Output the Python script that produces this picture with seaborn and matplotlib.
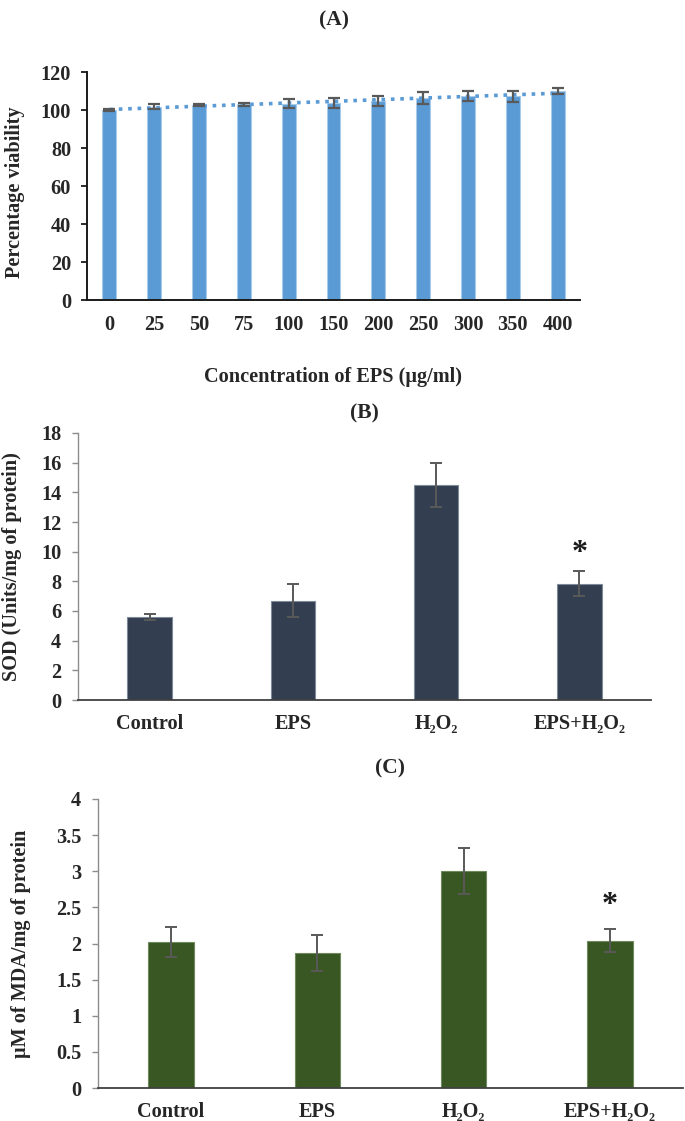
import numpy as np
import pandas as pd
import matplotlib
matplotlib.use("Agg")
import matplotlib.pyplot as plt
import seaborn as sns

# ---------------- data ----------------
conc_labels = ["0", "25", "50", "75", "100", "150", "200", "250", "300", "350", "400"]
viability = [100, 101.8, 102.5, 103, 103.4, 103.7, 104.9, 106.4, 107.3, 107.2, 110]
viability_err = [0.3, 1.4, 0.5, 0.7, 2.2, 2.8, 2.6, 3.0, 2.7, 3.0, 1.7]

groups = ["Control", "EPS", "H\u2082O\u2082", "EPS+H\u2082O\u2082"]
sod = [5.6, 6.7, 14.5, 7.85]
sod_err = [0.2, 1.1, 1.5, 0.85]
mda = [2.02, 1.87, 3.0, 2.04]
mda_err = [0.21, 0.25, 0.32, 0.16]
sig_group = 3
sod_star_y = 9.85
mda_star_y = 2.53

# ---------------- style ----------------
sns.set_theme(style="white")
plt.rcParams["font.family"] = ["Liberation Serif", "DejaVu Serif"]
plt.rcParams["font.weight"] = "bold"
plt.rcParams["axes.labelweight"] = "bold"

W, H = 685, 1121
fig = plt.figure(figsize=(W / 100, H / 100), dpi=100)


def rect(x0, x1, ytop, ybot):
    return [x0 / W, (H - ybot) / H, (x1 - x0) / W, (ybot - ytop) / H]


TICK_FS = 14.6
LAB_FS = 14.6
ERR_COL = "#595959"

# ---------------- panel A ----------------
axA = fig.add_axes(rect(87, 580, 72, 300))
dfA = pd.DataFrame({"conc": conc_labels, "v": viability})
sns.barplot(data=dfA, x="conc", y="v", color="#5B9BD5", saturation=1, width=0.31,
            edgecolor="#A9CBEA", linewidth=0.8, ax=axA)
axA.errorbar(np.arange(len(conc_labels)), viability, yerr=viability_err, fmt="none",
             ecolor=ERR_COL, elinewidth=1.6, capsize=4, capthick=1.6, zorder=3)
sns.regplot(x=np.arange(len(conc_labels)), y=np.array(viability), scatter=False, ci=None,
            color="#5B9BD5", line_kws=dict(ls=(0, (1, 1.6)), lw=2.6), ax=axA)
axA.set_xlim(-0.5, len(conc_labels) - 0.5)
axA.set_ylim(0, 120)
axA.set_yticks(range(0, 121, 20))
axA.set_xticks(range(len(conc_labels)))
axA.set_xticklabels(conc_labels)
for s in ["top", "right"]:
    axA.spines[s].set_visible(False)
for s in ["left", "bottom"]:
    axA.spines[s].set_color("#1a1a1a")
    axA.spines[s].set_linewidth(1.4)
axA.tick_params(axis="y", length=4.5, width=1.3, color="#1a1a1a", direction="out", pad=7,
                labelsize=TICK_FS, left=True)
axA.tick_params(axis="x", length=0, pad=11, labelsize=TICK_FS)
axA.set_xlabel("Concentration of EPS (\u00b5g/ml)", fontsize=LAB_FS, fontweight="bold")
axA.set_ylabel("Percentage viability", fontsize=LAB_FS, fontweight="bold")
axA.xaxis.label.set_va("center")
axA.xaxis.set_label_coords(0.5, (300 - 377) / 228)
axA.yaxis.label.set_va("center")
axA.yaxis.set_label_coords((15 - 87) / 493, 0.5 - 6 / 228)


def group_panel(box, vals, errs, color, edge, ylim, yticks, ylabel, ylab_x, star_y):
    ax = fig.add_axes(box)
    df = pd.DataFrame({"g": groups, "v": vals})
    sns.barplot(data=df, x="g", y="v", color=color, saturation=1, width=0.31,
                edgecolor=edge, linewidth=0.8, ax=ax)
    ax.errorbar(np.arange(len(groups)), vals, yerr=errs, fmt="none", ecolor=ERR_COL,
                elinewidth=1.4, capsize=4, capthick=1.4, zorder=3)
    ax.set_xlim(-0.5, len(groups) - 0.5)
    ax.set_ylim(*ylim)
    ax.set_yticks(yticks)
    ax.set_yticklabels([f"{t:g}" for t in yticks])
    for s in ["top", "right"]:
        ax.spines[s].set_visible(False)
    ax.spines["left"].set_color("#8c8c8c")
    ax.spines["left"].set_linewidth(1.0)
    ax.spines["bottom"].set_color("#404040")
    ax.spines["bottom"].set_linewidth(1.3)
    ax.tick_params(axis="y", length=4, width=1.0, color="#8c8c8c", direction="out", pad=8,
                   labelsize=TICK_FS, left=True)
    ax.tick_params(axis="x", length=0, pad=10, labelsize=TICK_FS)
    ax.set_xlabel("")
    ax.set_ylabel(ylabel, fontsize=LAB_FS, fontweight="bold")
    ax.yaxis.label.set_va("center")
    ax.yaxis.set_label_coords(ylab_x, 0.5)
    ax.text(sig_group, star_y, "*", ha="center", va="center", fontsize=23, fontweight="bold",
            color="#1a1a1a")
    return ax


axB = group_panel(rect(78, 651, 433, 700), sod, sod_err, "#333F50", "#7F8A99",
                  (0, 18), list(range(0, 19, 2)), "SOD (Units/mg of protein)",
                  (12 - 78) / 573, sod_star_y)
axC = group_panel(rect(98, 683, 799, 1088), mda, mda_err, "#385723", "#6E8A5A",
                  (0, 4), [0, 0.5, 1, 1.5, 2, 2.5, 3, 3.5, 4], "\u00b5M of MDA/mg of protein",
                  (21 - 98) / 585, mda_star_y)

# ---------------- panel titles ----------------
for txt, x, y in [("(A)", 333.5, 20), ("(B)", 364.5, 413), ("(C)", 390, 768)]:
    fig.text(x / W, 1 - y / H, txt, ha="center", va="center", fontsize=15.5, fontweight="bold")

fig.savefig("out.png", dpi=100, facecolor="white")
